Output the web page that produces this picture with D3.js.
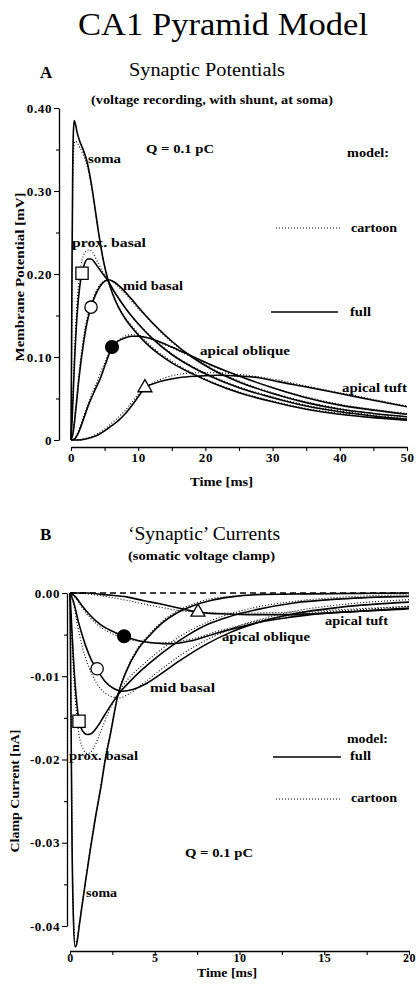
<!DOCTYPE html>
<html>
<head>
<meta charset="utf-8">
<script src="https://cdn.jsdelivr.net/npm/d3@7"></script>
<style>
  body { margin: 0; background: #fff; }
  svg { display: block; }
  text { font-family: "Liberation Serif", "Times New Roman", serif; fill: #000; }
</style>
</head>
<body>
<script>
// ---- panel A: synaptic potentials [ms, mV]
const potSomaFull = [[0,0],[0.08,0.1],[0.16,0.22],[0.25,0.32],[0.35,0.37],[0.48,0.385],[0.65,0.381],[0.9,0.371],[1.3,0.36],[1.8,0.35],[2.4,0.335],[3,0.31],[3.6,0.278],[4.2,0.245],[4.8,0.217],[5.4,0.196],[6.2,0.176],[7,0.161],[8,0.147],[9.3,0.133],[11,0.118],[13,0.104],[15,0.093],[18,0.08],[21,0.069],[25,0.057],[30,0.046],[35,0.037],[40,0.031],[45,0.027],[50,0.024]];
const potSomaCartoon = [[0,0],[0.08,0.09],[0.16,0.2],[0.25,0.29],[0.35,0.34],[0.5,0.358],[0.7,0.36],[1,0.357],[1.4,0.351],[1.9,0.342],[2.4,0.33],[3,0.307],[3.6,0.276],[4.2,0.244],[4.8,0.217],[5.4,0.196],[6.2,0.177],[7,0.162],[8,0.148],[9.3,0.135],[11,0.12],[13,0.106],[15,0.095],[18,0.081],[21,0.07],[25,0.058],[30,0.047],[35,0.038],[40,0.032],[45,0.027],[50,0.024]];
const potProxFull = [[0,0],[0.2,0.03],[0.5,0.09],[0.9,0.15],[1.3,0.185],[1.64,0.201],[2,0.212],[2.5,0.218],[3,0.218],[3.6,0.213],[4.3,0.205],[5.4,0.193],[6.5,0.178],[8,0.16],[10,0.14],[12,0.123],[15,0.103],[18,0.088],[21,0.076],[25,0.063],[30,0.051],[35,0.041],[40,0.034],[45,0.029],[50,0.025]];
const potProxCartoon = [[0,0],[0.2,0.035],[0.5,0.1],[0.9,0.165],[1.3,0.2],[1.7,0.218],[2.2,0.227],[2.7,0.229],[3.2,0.226],[3.8,0.217],[4.5,0.206],[5.4,0.193],[6.5,0.178],[8,0.16],[10,0.14],[12,0.124],[15,0.104],[18,0.089],[21,0.077],[25,0.064],[30,0.052],[35,0.042],[40,0.035],[45,0.03],[50,0.026]];
const potMidFull = [[0,0],[0.3,0.008],[0.7,0.035],[1.2,0.075],[1.8,0.113],[2.4,0.142],[2.98,0.16],[3.6,0.174],[4.3,0.185],[5,0.191],[5.6,0.193],[6.3,0.191],[7,0.187],[8,0.179],[9.5,0.165],[11,0.151],[13,0.134],[15,0.119],[18,0.1],[21,0.085],[25,0.07],[30,0.056],[35,0.045],[40,0.037],[45,0.032],[50,0.028]];
const potMidCartoon = [[0,0],[0.3,0.01],[0.7,0.04],[1.2,0.082],[1.8,0.12],[2.4,0.147],[3,0.164],[3.6,0.177],[4.3,0.187],[5,0.192],[5.6,0.193],[6.3,0.19],[7,0.185],[8,0.177],[9.5,0.163],[11,0.15],[13,0.133],[15,0.118],[18,0.1],[21,0.086],[25,0.071],[30,0.057],[35,0.046],[40,0.038],[45,0.032],[50,0.028]];
const potOblFull = [[0,0],[0.5,0.001],[1,0.007],[1.6,0.019],[2.2,0.033],[2.8,0.046],[3.5,0.059],[4.3,0.073],[5.2,0.093],[6.1,0.112],[7,0.119],[8,0.123],[9,0.125],[10,0.125],[11.5,0.123],[13,0.119],[15,0.112],[18,0.101],[21,0.09],[25,0.077],[30,0.063],[35,0.051],[40,0.042],[45,0.036],[50,0.031]];
const potOblCartoon = [[0,0],[0.5,0.002],[1,0.009],[1.6,0.022],[2.2,0.036],[2.8,0.049],[3.5,0.063],[4.3,0.079],[5.2,0.097],[6.1,0.112],[7,0.12],[8,0.125],[9,0.127],[10,0.126],[11.5,0.123],[13,0.118],[15,0.111],[18,0.1],[21,0.089],[25,0.077],[30,0.063],[35,0.052],[40,0.043],[45,0.037],[50,0.032]];
const potTuftFull = [[0,0],[1,0],[2,0.001],[3,0.003],[4,0.006],[5,0.011],[6,0.017],[7,0.023],[8,0.031],[9,0.041],[10,0.052],[11,0.063],[12,0.067],[14,0.072],[16,0.075],[19,0.077],[22,0.078],[25,0.077],[28,0.075],[31,0.07],[35,0.064],[40,0.056],[45,0.048],[50,0.04]];
const potTuftCartoon = [[0,0],[1,0],[2,0.0015],[3,0.004],[4,0.008],[5,0.013],[6,0.02],[7,0.027],[8,0.035],[9,0.045],[10,0.055],[11,0.063],[12,0.068],[14,0.075],[16,0.079],[19,0.081],[22,0.081],[25,0.079],[28,0.076],[31,0.072],[35,0.065],[40,0.057],[45,0.049],[50,0.041]];
const potMarkers = [["square", 1.64, 0.201], ["circle", 2.98, 0.160], ["disc", 6.1, 0.112], ["triangle", 11.0, 0.063]];

// ---- panel B: clamp currents [ms, nA]
const curSomaFull = [[0,0],[0.05,-0.012],[0.12,-0.03],[0.2,-0.039],[0.3,-0.0425],[0.4,-0.0421],[0.55,-0.0399],[0.7,-0.0377],[0.95,-0.0342],[1.2,-0.0308],[1.5,-0.027],[1.8,-0.0236],[2.1,-0.0198],[2.4,-0.0168],[2.8,-0.0125],[3.3,-0.0095],[4,-0.0068],[4.7,-0.0051],[5.5,-0.0035],[6.3,-0.0024],[7.3,-0.0015],[8.3,-0.0009],[9.4,-0.0005],[11,-0.0002],[14,-0.0001],[20,0]];
const curSomaCartoon = [[0,0],[0.05,-0.011],[0.12,-0.029],[0.2,-0.0385],[0.3,-0.042],[0.4,-0.0418],[0.55,-0.0398],[0.7,-0.0376],[0.95,-0.0341],[1.2,-0.0306],[1.5,-0.0268],[1.8,-0.0233],[2.1,-0.0196],[2.4,-0.0166],[2.8,-0.0124],[3.3,-0.0094],[4,-0.0066],[4.7,-0.0049],[5.5,-0.0033],[6.3,-0.0022],[7.3,-0.0013],[8.3,-0.0007],[9.4,-0.0004],[11,-0.0002],[14,-0.0001],[20,0]];
const curProxFull = [[0,0],[0.1,-0.004],[0.25,-0.0095],[0.4,-0.0132],[0.53,-0.0153],[0.75,-0.0166],[1,-0.017],[1.25,-0.0169],[1.6,-0.0161],[2,-0.0148],[2.5,-0.0132],[3,-0.0118],[3.5,-0.0107],[4.2,-0.0093],[5,-0.0079],[5.9,-0.0065],[7,-0.005],[8.2,-0.0037],[9.3,-0.0029],[11,-0.002],[13.2,-0.0012],[16,-0.0007],[20,-0.0004]];
const curProxCartoon = [[0,0],[0.1,-0.005],[0.25,-0.011],[0.45,-0.0158],[0.7,-0.0184],[1.05,-0.0193],[1.4,-0.0186],[1.8,-0.0167],[2.3,-0.0142],[2.8,-0.0122],[3.4,-0.0104],[4.2,-0.0088],[5,-0.0074],[5.9,-0.006],[7,-0.0046],[8.2,-0.0034],[9.3,-0.0026],[11,-0.0017],[13.2,-0.001],[16,-0.0005],[20,-0.0002]];
const curMidFull = [[0,0],[0.2,-0.001],[0.5,-0.0035],[0.9,-0.0062],[1.25,-0.008],[1.6,-0.0092],[2.1,-0.0107],[2.6,-0.0115],[3.1,-0.0118],[3.7,-0.0116],[4.4,-0.011],[5.3,-0.0098],[6.5,-0.0081],[8,-0.0062],[9.5,-0.0047],[11,-0.0036],[13.2,-0.0025],[16,-0.0017],[20,-0.0011]];
const curMidCartoon = [[0,0],[0.2,-0.0013],[0.5,-0.0045],[0.9,-0.0077],[1.3,-0.0098],[1.8,-0.0115],[2.3,-0.0123],[2.9,-0.0126],[3.5,-0.0121],[4.3,-0.0109],[5.3,-0.0093],[6.5,-0.0075],[8,-0.0057],[9.5,-0.0043],[11,-0.0033],[13.2,-0.0022],[16,-0.0014],[20,-0.0008]];
const curOblFull = [[0,0],[0.3,-0.0004],[0.7,-0.0015],[1.2,-0.0027],[1.8,-0.0038],[2.5,-0.0046],[3.19,-0.0052],[4,-0.0057],[5,-0.006],[6,-0.0061],[7.25,-0.0057],[8.7,-0.0048],[10,-0.0041],[11.2,-0.0035],[12.7,-0.003],[14.2,-0.0026],[17.1,-0.0022],[20,-0.0018]];
const curOblCartoon = [[0,0],[0.3,-0.0005],[0.7,-0.0017],[1.2,-0.003],[1.8,-0.0041],[2.5,-0.0049],[3.19,-0.0054],[4,-0.0058],[5,-0.006],[6,-0.0059],[7.25,-0.0055],[8.7,-0.0046],[10,-0.0039],[11.2,-0.0033],[12.7,-0.0028],[14.2,-0.0024],[17.1,-0.002],[20,-0.0016]];
const curTuftFull = [[0,0],[1,0],[2,-0.0002],[3.4,-0.0005],[4.3,-0.0009],[5.3,-0.0013],[6.4,-0.0018],[7.55,-0.0023],[8.8,-0.0025],[10.5,-0.0026],[13,-0.0026],[16,-0.0023],[20,-0.0019]];
const curTuftCartoon = [[0,0],[1,-0.0001],[2,-0.0004],[3.4,-0.0009],[4.3,-0.0013],[5.3,-0.0017],[6.4,-0.0021],[7.55,-0.0023],[8.8,-0.0024],[10.5,-0.0024],[13,-0.0023],[16,-0.002],[20,-0.0016]];
const curMarkers = [["square", 0.53, -0.0154], ["circle", 1.6, -0.0091], ["disc", 3.19, -0.0052], ["triangle", 7.55, -0.0023]];

// ---- ticks
const potTicks = [0, 0.1, 0.2, 0.3, 0.4];
const potMinor = [0.05, 0.15, 0.25, 0.35];
const timeTicksA = [0, 10, 20, 30, 40, 50];
const timeMinorA = [5, 15, 25, 35, 45];
const curTicks = [0, -0.01, -0.02, -0.03, -0.04];
const curMinor = [-0.005, -0.015, -0.025, -0.035];
const timeTicksB = [0, 5, 10, 15, 20];
const timeMinorB = [2.5, 7.5, 12.5, 17.5];

const W = 416, H = 988;
const svg = d3.select('body').append('svg').attr('width', W).attr('height', H);
svg.append('rect').attr('width', W).attr('height', H).attr('fill', '#fff');

function label(text, x, y, opts = {}) {
  const t = svg.append('text')
    .attr('x', x).attr('y', y)
    .attr('font-size', opts.size || 13)
    .attr('font-weight', opts.weight || 'bold')
    .text(text);
  if (opts.len) t.attr('textLength', opts.len).attr('lengthAdjust', 'spacingAndGlyphs');
  if (opts.rotate) t.attr('transform', `rotate(-90 ${x} ${y})`).attr('text-anchor', 'middle');
  return t;
}

function styleAxis(g, size) {
  g.select('.domain').attr('stroke', '#000').attr('stroke-width', 1.3);
  g.selectAll('.tick line').attr('stroke', '#000').attr('stroke-width', 1.1);
  g.selectAll('.tick text')
    .attr('font-family', '"Liberation Serif", serif')
    .attr('font-weight', 'bold')
    .attr('font-size', size || 13)
    .attr('letter-spacing', 0.6)
    .attr('fill', '#000');
}

function drawPanel(cfg) {
  const { x, y } = cfg;
  const yMaj = svg.append('g').attr('transform', `translate(${cfg.yAxisX},0)`)
    .call(d3.axisLeft(y).tickValues(cfg.yTicks).tickSize(5).tickSizeOuter(0).tickPadding(2).tickFormat(cfg.yFmt));
  styleAxis(yMaj);
  const yMin = svg.append('g').attr('transform', `translate(${cfg.yAxisX},0)`)
    .call(d3.axisLeft(y).tickValues(cfg.yMinor).tickSize(3).tickFormat(''));
  yMin.select('.domain').remove();
  styleAxis(yMin);

  const xMaj = svg.append('g').attr('transform', `translate(0,${cfg.xAxisY})`)
    .call(d3.axisBottom(x).tickValues(cfg.xTicks).tickSize(4).tickSizeOuter(0).tickPadding(cfg.xPad).tickFormat(d3.format('d')));
  styleAxis(xMaj, cfg.xFont);
  const xMin = svg.append('g').attr('transform', `translate(0,${cfg.xAxisY})`)
    .call(d3.axisBottom(x).tickValues(cfg.xMinor).tickSize(4).tickFormat(''));
  xMin.select('.domain').remove();
  styleAxis(xMin);

  const line = d3.line().x(d => x(d[0])).y(d => y(d[1])).curve(d3.curveMonotoneX);

  if (cfg.zeroLine) {
    svg.append('path').attr('d', line([[x.domain()[0], 0], [x.domain()[1], 0]]))
      .attr('fill', 'none').attr('stroke', '#000').attr('stroke-width', 1.3)
      .attr('stroke-dasharray', '6 4');
  }

  cfg.cartoon.forEach(s => {
    svg.append('path').attr('d', line(s)).attr('fill', 'none')
      .attr('stroke', '#000').attr('stroke-width', 1.1).attr('stroke-dasharray', '1 2');
  });
  cfg.full.forEach(s => {
    svg.append('path').attr('d', line(s)).attr('fill', 'none')
      .attr('stroke', '#000').attr('stroke-width', 1.6);
  });

  const sym = {
    square: d3.symbol().type(d3.symbolSquare).size(150),
    circle: d3.symbol().type(d3.symbolCircle).size(120),
    disc: d3.symbol().type(d3.symbolCircle).size(130),
    triangle: d3.symbol().type(d3.symbolTriangle).size(85),
  };
  svg.selectAll(null).data(cfg.markers).enter().append('path')
    .attr('transform', d => `translate(${x(d[1])},${y(d[2])})`)
    .attr('d', d => sym[d[0]]())
    .attr('fill', d => d[0] === 'disc' ? '#000' : '#fff')
    .attr('stroke', '#000').attr('stroke-width', 1.3);
}

// ---------- title
label('CA1 Pyramid Model', 78, 35, { size: 32, weight: 'normal', len: 290 });

// ---------- panel A
const xA = d3.scaleLinear().domain([0, 50]).range([71, 407]);
const yA = d3.scaleLinear().domain([0, 0.4]).range([440, 108]);
drawPanel({
  x: xA, y: yA, yAxisX: 59, xAxisY: 447, xPad: 2,
  yTicks: potTicks, yMinor: potMinor, xTicks: timeTicksA, xMinor: timeMinorA,
  yFmt: d => d === 0 ? '0' : d.toFixed(2),
  full: [potSomaFull, potProxFull, potMidFull, potOblFull, potTuftFull],
  cartoon: [potSomaCartoon, potProxCartoon, potMidCartoon, potOblCartoon, potTuftCartoon],
  markers: potMarkers,
});
label('A', 40, 78, { size: 17 });
label('Synaptic Potentials', 129, 76, { size: 18, weight: 'normal', len: 156 });
label('(voltage recording, with shunt, at soma)', 91, 104, { size: 13, len: 242 });
label('Q = 0.1 pC', 146, 153, { len: 68 });
label('soma', 88, 163, { len: 33 });
label('prox. basal', 72, 247, { len: 74 });
label('mid basal', 123, 290, { len: 60 });
label('apical oblique', 200, 355, { len: 90 });
label('apical tuft', 342, 392, { len: 65 });
label('model:', 347, 157, { len: 42 });
label('cartoon', 351, 232, { len: 46 });
label('full', 350, 316, { len: 21 });
label('Time [ms]', 190, 486, { len: 63 });
label('Membrane Potential [mV]', 24, 277, { rotate: true, len: 169 });
svg.append('line').attr('x1', 276).attr('x2', 342).attr('y1', 228).attr('y2', 228)
  .attr('stroke', '#000').attr('stroke-width', 1.1).attr('stroke-dasharray', '1 2');
svg.append('line').attr('x1', 271).attr('x2', 338).attr('y1', 312).attr('y2', 312)
  .attr('stroke', '#000').attr('stroke-width', 1.6);

// ---------- panel B
const xB = d3.scaleLinear().domain([0, 20]).range([70, 409]);
const yB = d3.scaleLinear().domain([-0.04, 0]).range([926, 593]);
drawPanel({
  x: xB, y: yB, yAxisX: 67, xAxisY: 951, xPad: -2, xFont: 12, zeroLine: true,
  yTicks: curTicks, yMinor: curMinor, xTicks: timeTicksB, xMinor: timeMinorB,
  yFmt: d => d.toFixed(2),
  full: [curSomaFull, curProxFull, curMidFull, curOblFull, curTuftFull],
  cartoon: [curSomaCartoon, curProxCartoon, curMidCartoon, curOblCartoon, curTuftCartoon],
  markers: curMarkers,
});
label('B', 40, 540, { size: 17 });
label('\u2018Synaptic\u2019 Currents', 128, 540, { size: 18, weight: 'normal', len: 152 });
label('(somatic voltage clamp)', 128, 560, { size: 13, len: 147 });
label('soma', 86, 897, { len: 31 });
label('prox. basal', 69, 760, { len: 69 });
label('mid basal', 150, 692, { len: 65 });
label('apical oblique', 222, 641, { len: 88 });
label('apical tuft', 325, 625, { len: 63 });
label('Q = 0.1 pC', 185, 857, { len: 68 });
label('model:', 347, 743, { len: 41 });
label('full', 350, 760, { len: 21 });
label('cartoon', 351, 802, { len: 46 });
label('Time [ms]', 197, 977, { size: 12, len: 60 });
label('Clamp Current [nA]', 19, 791, { rotate: true, len: 123 });
svg.append('line').attr('x1', 273).attr('x2', 341).attr('y1', 757).attr('y2', 757)
  .attr('stroke', '#000').attr('stroke-width', 1.6);
svg.append('line').attr('x1', 276).attr('x2', 342).attr('y1', 799).attr('y2', 799)
  .attr('stroke', '#000').attr('stroke-width', 1.1).attr('stroke-dasharray', '1 2');
</script>
</body>
</html>
